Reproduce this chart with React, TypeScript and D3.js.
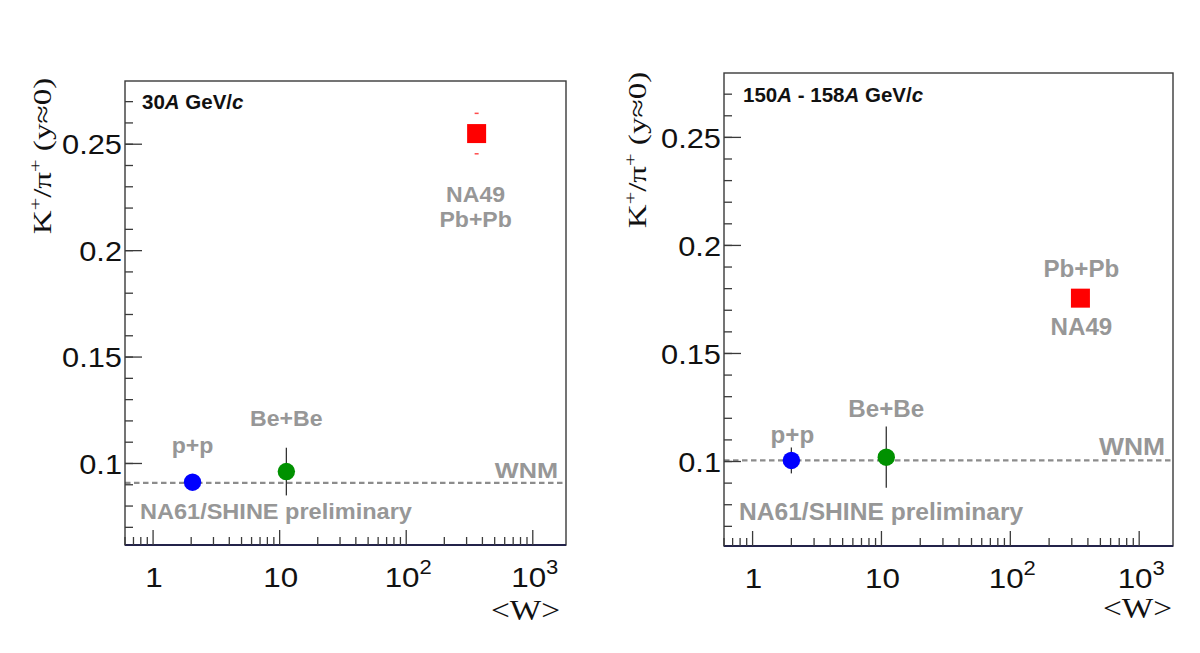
import React from "react";
import * as d3 from "d3";

// ---------- data ----------
const systems = ["p+p", "Be+Be", "Pb+Pb"];
const markerColors = ["#0000ff", "#009100", "#ff0000"];
const markerShapes = ["circle", "circle", "square"];

// 30A GeV/c
const leftW = [2.05, 11.3, 360];
const leftRatio = [0.0912, 0.0962, 0.255];
const leftErr = [0.002, 0.0112, 0.0095];
const leftWNM = 0.0909;

// 150A - 158A GeV/c
const rightW = [2.0, 10.9, 350];
const rightRatio = [0.1005, 0.102, 0.1756];
const rightErr = [0.006, 0.0142, 0.003];
const rightWNM = 0.1005;

const yMajorTicks = [0.1, 0.15, 0.2, 0.25];
const yMinorTicks = d3.range(7, 28).map((v) => v / 100);
const xMajorTicks = [1, 10, 100, 1000];
const xTickLabels = [["1", ""], ["10", ""], ["10", "2"], ["10", "3"]];

const GRAY = "#979797";
const FRAME = "#3a3a3a";
const SANS = "'Liberation Sans', Arial, Helvetica, sans-serif";
const SERIF = "'Liberation Serif', 'Times New Roman', serif";

type PanelCfg = {
  x0: number; x1: number; y0: number; y1: number;
  xDomain: [number, number]; yDomain: [number, number];
  W: number[]; R: number[]; E: number[]; wnm: number;
  title: React.ReactNode; titleX: number; titleY: number;
  labelOffsets: { dx: number; dy: number; lines: string[]; gap: number }[];
  fs: number; sx: number;
  yLabelX: number; yLabelY: number;
  wLabelX: number; wLabelY: number;
};

function Panel({ c }: { c: PanelCfg }) {
  const x = d3.scaleLog().domain(c.xDomain).range([c.x0, c.x1]);
  const y = d3.scaleLinear().domain(c.yDomain).range([c.y1, c.y0]);
  const xMinor: number[] = [];
  for (let dec = -1; dec <= 3; dec++) {
    for (let m = 2; m <= 9; m++) {
      const v = m * Math.pow(10, dec);
      if (v > c.xDomain[0] && v < c.xDomain[1]) xMinor.push(v);
    }
  }
  const bold = (tx: number, ty: number, txt: string, anchor: string, fs: number, fill: string, sx: number) => (
    <text
      transform={`translate(${tx},${ty}) scale(${sx},1)`}
      textAnchor={anchor as any}
      fontFamily={SANS}
      fontWeight="bold"
      fontSize={fs}
      fill={fill}
    >
      {txt}
    </text>
  );
  return (
    <g>
      {/* WNM line */}
      <line
        x1={c.x0}
        x2={c.x1}
        y1={y(c.wnm)}
        y2={y(c.wnm)}
        stroke="#8c8c8c"
        strokeWidth={2.2}
        strokeDasharray="5.5,3.5"
      />
      {/* frame */}
      <rect x={c.x0} y={c.y0} width={c.x1 - c.x0} height={c.y1 - c.y0} fill="none" stroke={FRAME} strokeWidth={1.4} />
      <line x1={c.x0} x2={c.x1} y1={c.y1} y2={c.y1} stroke="#23234a" strokeWidth={2} />
      {/* y ticks */}
      {yMinorTicks.map((v) => (
        <line key={"ym" + v} x1={c.x0} x2={c.x0 + 8} y1={y(v)} y2={y(v)} stroke={FRAME} strokeWidth={1.3} />
      ))}
      {yMajorTicks.map((v) => (
        <g key={"yM" + v}>
          <line x1={c.x0} x2={c.x0 + 17} y1={y(v)} y2={y(v)} stroke={FRAME} strokeWidth={1.3} />
          <text
            transform={`translate(${c.x0 - 3},${y(v)}) scale(1.08,1)`}
            dy="0.36em"
            textAnchor="end"
            fontFamily={SANS}
            fontSize={28.5}
            fill="#111"
          >
            {String(v)}
          </text>
        </g>
      ))}
      {/* x ticks */}
      {xMinor.map((v) => (
        <line key={"xm" + v} x1={x(v)} x2={x(v)} y1={c.y1} y2={c.y1 - 8} stroke={FRAME} strokeWidth={1.3} />
      ))}
      {xMajorTicks.map((v, i) => (
        <g key={"xM" + v}>
          <line x1={x(v)} x2={x(v)} y1={c.y1} y2={c.y1 - 15} stroke={FRAME} strokeWidth={1.3} />
          <text
            transform={`translate(${x(v) + (xTickLabels[i][1] ? 2 : 1)},${c.y1 + 42}) scale(1.1,1)`}
            textAnchor="middle"
            fontFamily={SANS}
            fontSize={28.5}
            fill="#111"
          >
            {xTickLabels[i][0]}
            {xTickLabels[i][1] ? (
              <tspan fontSize={20} dy={-13}>
                {xTickLabels[i][1]}
              </tspan>
            ) : null}
          </text>
        </g>
      ))}
      {/* axis titles */}
      <text
        transform={`translate(${c.wLabelX},${c.wLabelY}) scale(1.15,1)`}
        textAnchor="end"
        fontFamily={SERIF}
        fontSize={29}
        fill="#111"
      >
        {"<W>"}
      </text>
      <text
        transform={`translate(${c.yLabelX},${c.yLabelY}) rotate(-90) scale(1.3,1)`}
        textAnchor="middle"
        fontFamily={SERIF}
        fontSize={25.5}
        fill="#111"
      >
        K<tspan fontSize={17} dy={-10}>+</tspan>
        <tspan dy={10}>/π</tspan>
        <tspan fontSize={17} dy={-10}>+</tspan>
        <tspan dy={10}> (y≈0)</tspan>
      </text>
      {/* title */}
      <text x={c.titleX} y={c.titleY} fontFamily={SANS} fontWeight="bold" fontSize={20.5} fill="#111">
        {c.title}
      </text>
      {/* annotations */}
      {bold(c.x1 - 8, y(c.wnm) - 5, "WNM", "end", c.fs, GRAY, c.sx + 0.1)}
      {bold(c.x0 + 15, c.y1 - 26, "NA61/SHINE preliminary", "start", c.fs, GRAY, c.sx + 0.02)}
      {systems.map((s, i) => {
        const o = c.labelOffsets[i];
        const px = x(c.W[i]);
        const py = y(c.R[i]);
        return o.lines.map((ln, j) => (
          <g key={s + j}>{bold(px + o.dx, py + o.dy + j * o.gap, ln, "middle", c.fs, GRAY, c.sx)}</g>
        ));
      })}
      {/* error bars and markers */}
      {systems.map((s, i) => {
        const px = x(c.W[i]);
        const py = y(c.R[i]);
        const top = y(c.R[i] + c.E[i]);
        const bot = y(c.R[i] - c.E[i]);
        const col = markerColors[i];
        if (markerShapes[i] === "square") {
          return (
            <g key={s}>
              <line x1={px - 2} x2={px + 2} y1={top} y2={top} stroke={col} strokeWidth={1.5} opacity={0.7} />
              <line x1={px - 2} x2={px + 2} y1={bot} y2={bot} stroke={col} strokeWidth={1.5} opacity={0.7} />
              <rect x={px - 9.5} y={py - 9.5} width={19} height={19} fill={col} />
            </g>
          );
        }
        return (
          <g key={s}>
            <line x1={px} x2={px} y1={top} y2={bot} stroke="#333" strokeWidth={1.3} />
            <circle cx={px} cy={py} r={8.7} fill={col} />
          </g>
        );
      })}
    </g>
  );
}

const leftCfg: PanelCfg = {
  x0: 125, x1: 566, y0: 81, y1: 545,
  xDomain: [0.6, 1830], yDomain: [0.0617, 0.2797],
  W: leftW, R: leftRatio, E: leftErr, wnm: leftWNM,
  title: (
    <>
      30<tspan fontStyle="italic">A</tspan> GeV/<tspan fontStyle="italic">c</tspan>
    </>
  ),
  titleX: 142, titleY: 109,
  labelOffsets: [
    { dx: 0, dy: -29, lines: ["p+p"], gap: 0 },
    { dx: 0, dy: -46, lines: ["Be+Be"], gap: 0 },
    { dx: -1, dy: 68, lines: ["NA49", "Pb+Pb"], gap: 25 },
  ],
  fs: 22, sx: 1.05,
  yLabelX: 51, yLabelY: 156,
  wLabelX: 560, wLabelY: 620,
};

const rightCfg: PanelCfg = {
  x0: 724, x1: 1173, y0: 73, y1: 546,
  xDomain: [0.6, 1830], yDomain: [0.0609, 0.2798],
  W: rightW, R: rightRatio, E: rightErr, wnm: rightWNM,
  title: (
    <>
      150<tspan fontStyle="italic">A</tspan> - 158<tspan fontStyle="italic">A</tspan> GeV/
      <tspan fontStyle="italic">c</tspan>
    </>
  ),
  titleX: 743, titleY: 102,
  labelOffsets: [
    { dx: 1, dy: -17, lines: ["p+p"], gap: 0 },
    { dx: 0, dy: -40, lines: ["Be+Be"], gap: 0 },
    { dx: 1, dy: -21, lines: ["Pb+Pb"], gap: 0 },
  ],
  fs: 23, sx: 1.05,
  yLabelX: 646, yLabelY: 150,
  wLabelX: 1172, wLabelY: 618,
};

export default function App() {
  const rx = d3.scaleLog().domain(rightCfg.xDomain).range([rightCfg.x0, rightCfg.x1]);
  const ry = d3.scaleLinear().domain(rightCfg.yDomain).range([rightCfg.y1, rightCfg.y0]);
  return (
    <svg
      width={1200}
      height={653}
      style={{ position: "absolute", left: 0, top: 0, background: "#fff" }}
    >
      <rect width={1200} height={653} fill="#fff" />
      <Panel c={leftCfg} />
      <Panel c={rightCfg} />
      <text
        transform={`translate(${rx(rightW[2]) + 1},${ry(rightRatio[2]) + 37}) scale(1.05,1)`}
        textAnchor="middle"
        fontFamily={SANS}
        fontWeight="bold"
        fontSize={23}
        fill={GRAY}
      >
        NA49
      </text>
    </svg>
  );
}
